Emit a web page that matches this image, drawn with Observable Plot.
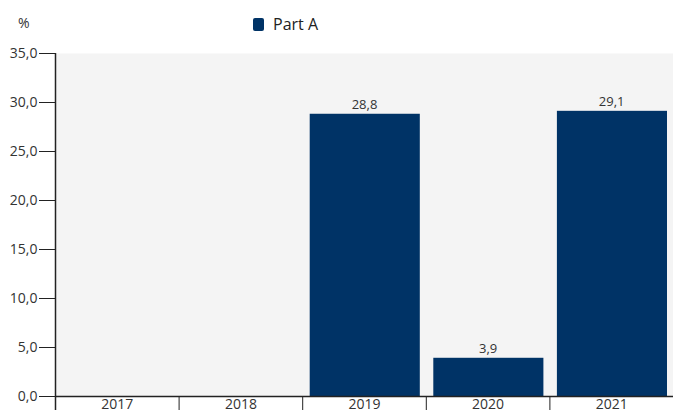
<!DOCTYPE html>
<html>
<head>
<meta charset="utf-8">
<script src="https://cdn.jsdelivr.net/npm/d3@7"></script>
<script src="https://cdn.jsdelivr.net/npm/@observablehq/plot@0.6"></script>
<style>
  body { margin: 0; background: #fff; font-family: "Open Sans", sans-serif; }
  #wrap { position: relative; width: 673px; }
  #head { position: relative; height: 40px; }
  #pct { position: absolute; left: 18px; top: 13px; font-size: 14px; color: #333; }
  #legend { position: absolute; left: 253px; top: 13px; display: flex; align-items: center; font-size: 16px; color: #222; }
  #legend .sw { width: 11px; height: 13px; border-radius: 2px; background: #003366; margin-right: 9px; }
  #chart svg g[aria-label="y-axis tick label"] text,
  #chart svg g[aria-label="x-axis tick label"] text { font-size: 14px !important; }
  #chart svg g[aria-label="text"] text { font-size: 13px !important; }
</style>
</head>
<body>
<div id="wrap">
  <div id="head">
    <div id="pct">%</div>
    <div id="legend"><span class="sw"></span><span>Part A</span></div>
  </div>
  <div id="chart"></div>
</div>
<script>
const years = [2017, 2018, 2019, 2020, 2021];
const yearLabels = ["2017", "2018", "2019", "2020", "2021"];
const partA = [null, null, 28.8, 3.9, 29.1];
const yTicks = [0, 5, 10, 15, 20, 25, 30, 35];

const data = years.map((y, i) => ({year: y, label: yearLabels[i], value: partA[i]}));
const bars = data.filter(d => d.value != null);
const boundaries = [years[0] - 0.5, ...years.map(y => y + 0.5)];
const fmt = v => d3.format(".1f")(v).replace(".", ",");

const chart = Plot.plot({
  width: 673,
  height: 372,
  marginTop: 13,
  marginBottom: 16,
  marginLeft: 55,
  marginRight: 0,
  style: {fontFamily: "Open Sans, sans-serif", fontSize: "13px", color: "#222", overflow: "visible"},
  x: {type: "linear", domain: [years[0] - 0.5, years[years.length - 1] + 0.5], axis: null},
  y: {domain: [0, 35], axis: null},
  marks: [
    Plot.frame({fill: "#f4f4f4", stroke: null}),
    Plot.rectY(bars, {x1: d => d.year - 0.5, x2: d => d.year + 0.5, y: "value", fill: "#003366", insetLeft: 7.5, insetRight: 6}),
    Plot.text(bars, {x: "year", y: "value", text: d => fmt(d.value), dy: -9, fill: "#333", fontSize: 13}),
    Plot.axisY({ticks: yTicks, tickSize: 16, tickPadding: 2, tickFormat: fmt, stroke: "#222", fill: "#333", fontSize: 14, label: null}),
    Plot.axisX({ticks: boundaries, tickSize: 14, tickFormat: () => "", stroke: "#222", label: null}),
    Plot.axisX({ticks: years, tickSize: 0, tickPadding: 3, tickFormat: (d) => yearLabels[years.indexOf(d)], fill: "#333", fontSize: 14, label: null}),
    Plot.ruleY([0], {stroke: "#222", strokeWidth: 1.5}),
    Plot.ruleX([years[0] - 0.5], {stroke: "#222", strokeWidth: 1.5, insetBottom: -14})
  ]
});
document.getElementById("chart").appendChild(chart);
</script>
</body>
</html>
